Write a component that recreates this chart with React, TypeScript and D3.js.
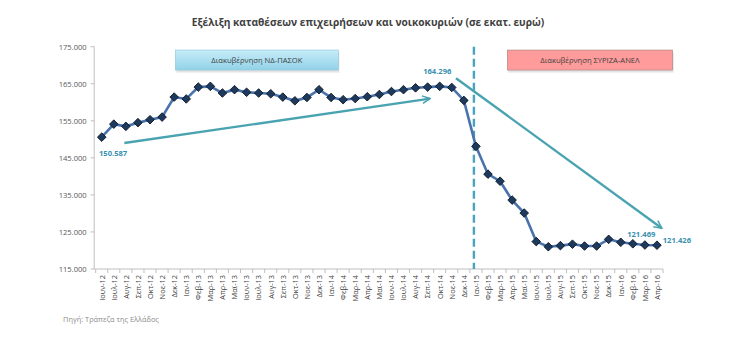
import React from "react";
import * as d3 from "d3";

const months = [
  "Ιουν-12","Ιουλ-12","Αυγ-12","Σεπ-12","Οκτ-12","Νοε-12","Δεκ-12",
  "Ιαν-13","Φεβ-13","Μαρ-13","Απρ-13","Μαϊ-13","Ιουν-13","Ιουλ-13","Αυγ-13","Σεπ-13","Οκτ-13","Νοε-13","Δεκ-13",
  "Ιαν-14","Φεβ-14","Μαρ-14","Απρ-14","Μαϊ-14","Ιουν-14","Ιουλ-14","Αυγ-14","Σεπ-14","Οκτ-14","Νοε-14","Δεκ-14",
  "Ιαν-15","Φεβ-15","Μαρ-15","Απρ-15","Μαϊ-15","Ιουν-15","Ιουλ-15","Αυγ-15","Σεπ-15","Οκτ-15","Νοε-15","Δεκ-15",
  "Ιαν-16","Φεβ-16","Μαρ-16","Απρ-16",
];

const deposits = [
  150.587, 154.1, 153.5, 154.5, 155.3, 156.0, 161.4,
  160.9, 164.1, 164.3, 162.5, 163.4, 162.7, 162.5, 162.3, 161.4, 160.4, 161.3, 163.4,
  161.3, 160.7, 161.0, 161.5, 162.1, 162.9, 163.4, 163.9, 164.1, 164.296, 164.0, 160.5,
  148.1, 140.6, 138.7, 133.6, 130.1, 122.4, 121.0, 121.3, 121.7, 121.2, 121.2, 123.0,
  122.2, 121.8, 121.469, 121.426,
];

const yTicks = [115, 125, 135, 145, 155, 165, 175];

const valueLabels = [
  { idx: 0, text: "150.587", dx: 0.94, dv: -5.0 },
  { idx: 28, text: "164.296", dx: -0.2, dv: 3.3 },
  { idx: 45, text: "121.469", dx: -0.3, dv: 2.1 },
  { idx: 46, text: "121.426", dx: 1.65, dv: 0.6 },
];

// trend arrows in (index, value) space
const arrows = [
  { from: [1.87, 149.0], to: [27.2, 161.0] },
  { from: [29.35, 166.5], to: [46.4, 126.0] },
];

const periods = [
  { text: "Διακυβέρνηση ΝΔ-ΠΑΣΟΚ", from: 6.1, to: 19.6, fill: "url(#blueGrad)", stroke: "#8cc4d8" },
  { text: "Διακυβέρνηση ΣΥΡΙΖΑ-ΑΝΕΛ", from: 33.6, to: 47.3, fill: "#ff9b9b", stroke: "#a08080" },
];

const splitMonth = "Ιαν-15";

export default function App() {
  const W = 746, H = 338;
  const left = 95.7, right = 663, top = 46.7, bottom = 269;
  const x = d3.scalePoint<string>().domain(months).range([left, right]).padding(0.5);
  const step = x.step();
  const xi = d3.scaleLinear().domain([0, months.length - 1]).range([x(months[0])!, x(months[months.length - 1])!]);
  const y = d3.scaleLinear().domain([115, 175]).range([bottom, top]);
  const line = d3.line<number>().x((_, i) => x(months[i])!).y((d) => y(d));
  const fmt = (v: number) => d3.format(",")(v * 1000).replace(/,/g, ".");
  const font = "'Open Sans', 'Noto Sans', sans-serif";
  const r = 4.3;
  const diamond = `M0,${-r}L${r},0L0,${r}L${-r},0Z`;
  const boxTop = y(174.1), boxBot = y(168.7);

  return (
    <svg width={W} height={H} style={{ position: "absolute", left: 0, top: 0, background: "#fff" }} fontFamily={font}>
      <defs>
        <linearGradient id="blueGrad" x1="0" y1="0" x2="0" y2="1">
          <stop offset="0" stopColor="#c6ecf8" />
          <stop offset="1" stopColor="#92d2e8" />
        </linearGradient>
        <marker id="arr" viewBox="0 0 10 10" refX="9" refY="5" markerWidth="4" markerHeight="4" orient="auto" markerUnits="strokeWidth">
          <path d="M1,1 L9,5 L1,9" fill="none" stroke="#4aa3b1" strokeWidth="1.6" />
        </marker>
      </defs>
      <text x={368} y={26} textAnchor="middle" fontSize={10.2} fontWeight="bold" fill="#404040">
        Εξέλιξη καταθέσεων επιχειρήσεων και νοικοκυριών (σε εκατ. ευρώ)
      </text>

      {/* y axis */}
      <line x1={left - 1.5} x2={left - 1.5} y1={top} y2={bottom} stroke="#bfbfbf" />
      {yTicks.map((t) => (
        <g key={t}>
          <line x1={left - 5} x2={left - 1.5} y1={y(t)} y2={y(t)} stroke="#bfbfbf" />
          <text x={left - 9} y={y(t) + 3} textAnchor="end" fontSize={7.6} fill="#595959">{fmt(t)}</text>
        </g>
      ))}

      {/* x axis */}
      <line x1={left - 1.5} x2={right} y1={bottom} y2={bottom} stroke="#bfbfbf" />
      {months.map((m) => (
        <g key={m}>
          <line x1={x(m)! - step / 2} x2={x(m)! - step / 2} y1={bottom} y2={bottom + 4} stroke="#bfbfbf" />
          <text transform={`translate(${x(m)! + 2.8},${bottom + 6}) rotate(-90)`} textAnchor="end" fontSize={7.4} fill="#404040">{m}</text>
        </g>
      ))}
      <line x1={right} x2={right} y1={bottom} y2={bottom + 4} stroke="#bfbfbf" />

      {/* period boxes */}
      {periods.map((p) => (
        <g key={p.text}>
          <rect x={xi(p.from)} y={boxTop + 1.5} width={xi(p.to) - xi(p.from)} height={boxBot - boxTop} fill="#d0d0d0" opacity={0.6} transform="translate(1,1)" />
          <rect x={xi(p.from)} y={boxTop} width={xi(p.to) - xi(p.from)} height={boxBot - boxTop} fill={p.fill} stroke={p.stroke} strokeWidth={0.6} />
          <text x={(xi(p.from) + xi(p.to)) / 2} y={(boxTop + boxBot) / 2 + 2.7} textAnchor="middle" fontSize={7.6} fill="#404040">{p.text}</text>
        </g>
      ))}

      {/* split line */}
      <line x1={x(splitMonth)! - 2} x2={x(splitMonth)! - 2} y1={top} y2={bottom} stroke="#4aa3c0" strokeWidth={2.4} strokeDasharray="8,4" />

      {/* arrows */}
      {arrows.map((a, i) => (
        <line key={i} x1={xi(a.from[0])} y1={y(a.from[1])} x2={xi(a.to[0])} y2={y(a.to[1])} stroke="#4aa3b1" strokeWidth={2.4} markerEnd="url(#arr)" />
      ))}

      {/* series */}
      <path d={line(deposits)!} fill="none" stroke="#4a72ad" strokeWidth={2.6} />
      {deposits.map((v, i) => (
        <path key={i} d={diamond} transform={`translate(${x(months[i])},${y(v)})`} fill="#1d3a5e" stroke="#0b1624" strokeWidth={0.9} />
      ))}

      {valueLabels.map((l) => (
        <text key={l.text} x={xi(l.idx + l.dx)} y={y(deposits[l.idx] + l.dv)} textAnchor="middle" fontSize={7.6} fontWeight="bold" fill="#3a8fb0">{l.text}</text>
      ))}

      <text x={63} y={322} fontSize={7.4} fill="#8c8c8c">Πηγή: Τράπεζα της Ελλάδος</text>
    </svg>
  );
}
